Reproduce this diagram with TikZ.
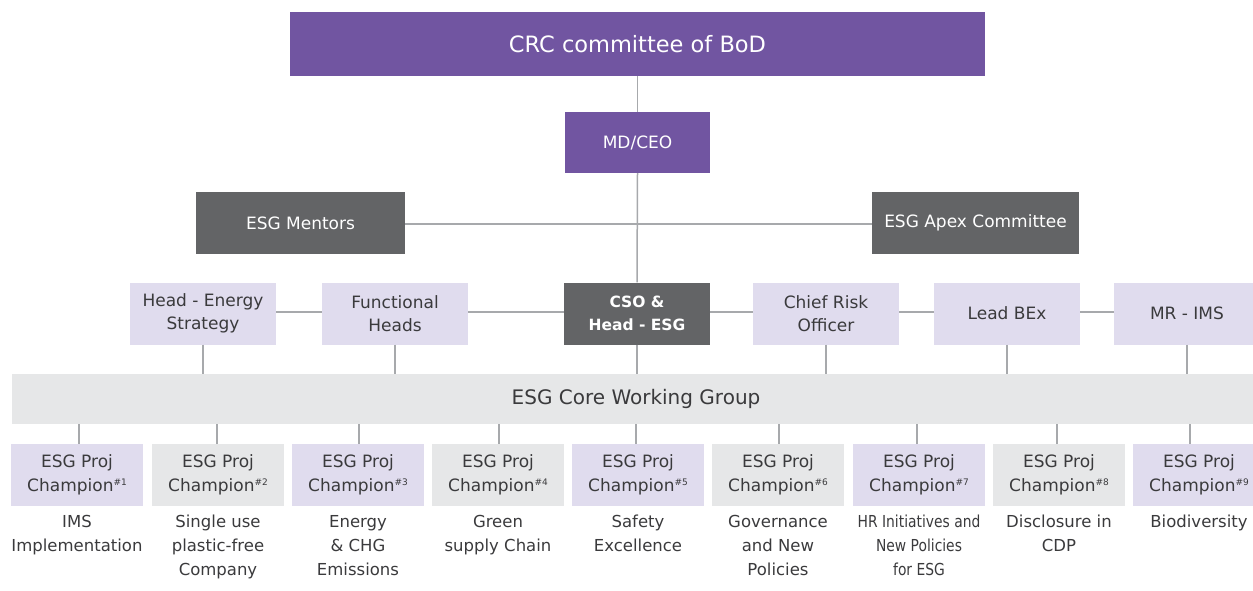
\documentclass[tikz,border=0pt]{standalone}
\usepackage{fontspec}
\setmainfont{DejaVu Sans}
\newfontfamily\narrowfnt[FakeStretch=0.84]{DejaVu Sans}
\definecolor{purp}{HTML}{7155A1}
\definecolor{lav}{HTML}{E0DCEE}
\definecolor{dgray}{HTML}{636466}
\definecolor{lgray}{HTML}{E6E7E8}
\definecolor{lin}{HTML}{A7A9AC}
\definecolor{txt}{HTML}{3A3A3C}
\tikzset{
  box/.style={inner sep=0pt, align=center, font=\fontsize{17}{23.5}\selectfont},
  purpbox/.style={box, fill=purp, text=white},
  darkbox/.style={box, fill=dgray, text=white},
  lavbox/.style={box, fill=lav, text=txt},
  graybox/.style={box, fill=lgray, text=txt},
  link/.style={draw=lin, line width=1.5pt},
  captext/.style={inner sep=0pt, align=center, anchor=north, text=txt, font=\fontsize{16.5}{24}\selectfont},
}
\newcommand{\champ}[1]{ESG Proj\\Champion{\fontsize{9}{9}\selectfont\raisebox{6pt}{\##1}}}
\begin{document}
\begin{tikzpicture}[x=1pt,y=-1pt]
\useasboundingbox (0,0) rectangle (1253,591);
% top
\node[purpbox, minimum width=695pt, minimum height=64pt, font=\fontsize{22.5}{26}\selectfont] (crc) at (637.5,44) {CRC committee of BoD};
\node[purpbox, minimum width=145pt, minimum height=61pt] (ceo) at (637.5,142.5) {MD/CEO};
\node[darkbox, minimum width=209pt, minimum height=62pt] (ment) at (300.5,223) {ESG Mentors};
\node[darkbox, minimum width=207pt, minimum height=62pt] (apex) at (975.5,223) {ESG Apex Committee};
% row 3
\node[lavbox, minimum width=146pt, minimum height=62pt] (hes) at (203,313.5) {Head - Energy\\Strategy};
\node[lavbox, minimum width=146pt, minimum height=62pt] (fh) at (395,313.5) {Functional\\Heads};
\node[darkbox, minimum width=146pt, minimum height=62pt, font=\fontsize{15.5}{23.5}\bfseries\selectfont] (cso) at (637,313.5) {CSO \&\\Head - ESG};
\node[lavbox, minimum width=146pt, minimum height=62pt] (cro) at (826,313.5) {Chief Risk\\Officer};
\node[lavbox, minimum width=146pt, minimum height=62pt] (bex) at (1007,313.5) {Lead BEx};
\node[lavbox, minimum width=146pt, minimum height=62pt] (mr) at (1187,313.5) {MR - IMS};
% core
\node[graybox, minimum width=1248pt, minimum height=50pt, font=\fontsize{20}{24}\selectfont] (core) at (636,399) {ESG Core Working Group};
% connectors top
\draw[link] (crc.south) -- (ceo.north);
\draw[link] (ceo.south) -- (cso.north);
\draw[link] ([yshift=-1pt]ment.east) -- ([yshift=-1pt]apex.west);
\draw[link] (cso.south) -- (core.north -| cso.south);
\foreach \a/\b in {hes/fh, fh/cso, cso/cro, cro/bex, bex/mr}{
  \draw[link] ([yshift=1.5pt]\a.east) -- ([yshift=1.5pt]\b.west);
}
\foreach \n in {hes,fh,cro,bex,mr}{
  \draw[link] (\n.south) -- (core.north -| \n.south);
}
% bottom boxes
\foreach \i/\cx/\lx/\st in {1/77/79/lavbox, 2/218/217/graybox, 3/358/359/lavbox, 4/498/499/graybox, 5/638/636/lavbox, 6/778/779/graybox, 7/919/917/lavbox, 8/1059/1057/graybox, 9/1199/1190/lavbox}{
  \node[\st, minimum width=132pt, minimum height=62pt] (c\i) at (\cx,475) {\champ{\i}};
  \coordinate (t\i) at (\lx,444);
  \draw[link] (core.south -| t\i) -- (t\i);
}
% captions
\node[captext] (k1) at ([yshift=-9pt]c1.south) {IMS\\Implementation};
\node[captext] (k2) at ([yshift=-9pt]c2.south) {Single use\\plastic-free\\Company};
\node[captext] (k3) at ([yshift=-9pt]c3.south) {Energy\\\& CHG\\Emissions};
\node[captext] (k4) at ([yshift=-9pt]c4.south) {Green\\supply Chain};
\node[captext] (k5) at ([yshift=-9pt]c5.south) {Safety\\Excellence};
\node[captext] (k6) at ([yshift=-9pt]c6.south) {Governance\\and New\\Policies};
\node[captext, font=\narrowfnt\fontsize{16.5}{24}\selectfont] (k7) at ([yshift=-9pt]c7.south) {HR Initiatives and\\New Policies\\for ESG};
\node[captext] (k8) at ([yshift=-9pt]c8.south) {Disclosure in\\CDP};
\node[captext] (k9) at ([yshift=-9pt]c9.south) {Biodiversity};
\end{tikzpicture}
\end{document}
